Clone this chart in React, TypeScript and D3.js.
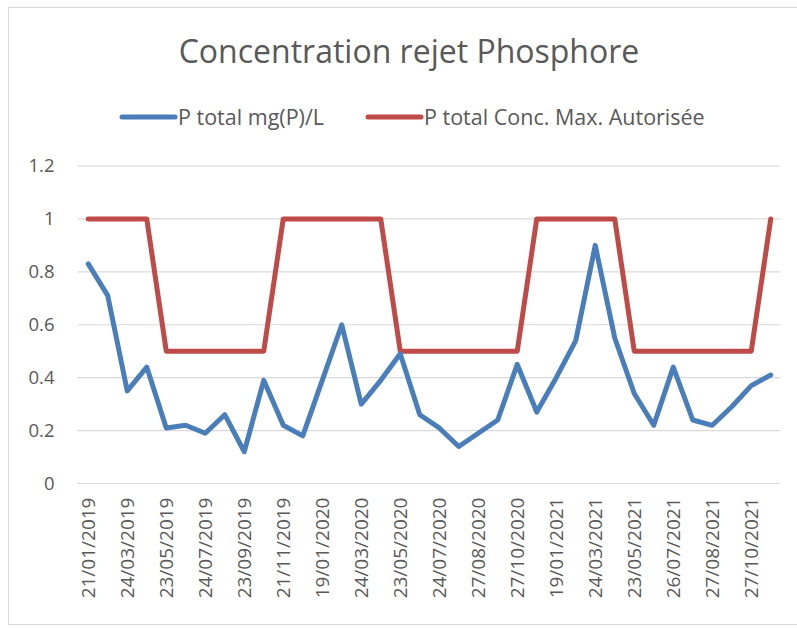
import React, { useEffect, useRef } from "react";
import * as d3 from "d3";

// shown date labels (every other sample)
const tickLabels = [
  "21/01/2019", "24/03/2019", "23/05/2019", "24/07/2019", "23/09/2019", "21/11/2019",
  "19/01/2020", "24/03/2020", "23/05/2020", "24/07/2020", "27/08/2020", "27/10/2020",
  "19/01/2021", "24/03/2021", "23/05/2021", "26/07/2021", "27/08/2021", "27/10/2021",
];

// P total mg(P)/L, one value per sample
const pTotal = [
  0.83, 0.71, 0.35, 0.44, 0.21, 0.22, 0.19, 0.26, 0.12, 0.39, 0.22, 0.18,
  0.39, 0.6, 0.3, 0.39, 0.49, 0.26, 0.21, 0.14, 0.19, 0.24, 0.45, 0.27,
  0.4, 0.54, 0.9, 0.55, 0.34, 0.22, 0.44, 0.24, 0.22, 0.29, 0.37, 0.41,
];

// P total Conc. Max. Autorisée
const pMax = [
  1, 1, 1, 1, 0.5, 0.5, 0.5, 0.5, 0.5, 0.5, 1, 1,
  1, 1, 1, 1, 0.5, 0.5, 0.5, 0.5, 0.5, 0.5, 0.5, 1,
  1, 1, 1, 1, 0.5, 0.5, 0.5, 0.5, 0.5, 0.5, 0.5, 1,
];

const seriesNames = ["P total mg(P)/L", "P total Conc. Max. Autorisée"];
const colors = ["#4a7ebb", "#be4b48"];

export default function App() {
  const ref = useRef<SVGSVGElement>(null);

  useEffect(() => {
    const svg = d3.select(ref.current);
    svg.selectAll("*").remove();

    const font = "'Open Sans', sans-serif";
    const textColor = "#595959";
    const left = 78.5, right = 780.5, top = 166, bottom = 483.5;

    // chart frame
    svg.append("rect")
      .attr("x", 8.5).attr("y", 7.5)
      .attr("width", 800).attr("height", 617)
      .attr("fill", "#fff").attr("stroke", "#d9d9d9");

    const x = d3.scaleBand<number>().domain(d3.range(pTotal.length)).range([left, right]);
    const cx = (i: number) => (x(i) as number) + x.bandwidth() / 2;
    const y = d3.scaleLinear().domain([0, 1.2]).range([bottom, top]);
    const yTicks = [0, 0.2, 0.4, 0.6, 0.8, 1, 1.2];

    // gridlines
    svg.append("g")
      .selectAll("line")
      .data(yTicks)
      .join("line")
      .attr("x1", left - 1).attr("x2", right)
      .attr("y1", d => y(d)).attr("y2", d => y(d))
      .attr("stroke", "#d9d9d9").attr("stroke-width", 1.2);

    const yAxis = svg.append("g")
      .attr("transform", "translate(" + left + ",0)")
      .call(d3.axisLeft(y).tickValues(yTicks).tickSize(0).tickPadding(24)
        .tickFormat(d => d3.format("~g")(d as number)));
    yAxis.select(".domain").remove();
    yAxis.selectAll("text")
      .attr("font-family", font).attr("font-size", 18.5).attr("fill", textColor);

    const xAxis = svg.append("g")
      .attr("transform", "translate(0," + bottom + ")")
      .call(d3.axisBottom(x)
        .tickValues(d3.range(0, pTotal.length, 2))
        .tickSize(0)
        .tickFormat(i => tickLabels[(i as number) / 2]));
    xAxis.select(".domain").remove();
    xAxis.selectAll("text")
      .attr("font-family", font).attr("font-size", 19).attr("fill", textColor)
      .attr("text-anchor", "end")
      .attr("transform", "translate(0,14) rotate(-90)")
      .attr("x", 0).attr("y", 0).attr("dy", "0.35em");

    const line = d3.line<number>().x((d, i) => cx(i)).y(d => y(d));

    [pMax, pTotal].forEach((data, k) => {
      svg.append("path")
        .datum(data)
        .attr("d", line)
        .attr("fill", "none")
        .attr("stroke", colors[1 - k])
        .attr("stroke-width", 5)
        .attr("stroke-linejoin", "round")
        .attr("stroke-linecap", "round");
    });

    // title
    svg.append("text")
      .attr("x", 409).attr("y", 63)
      .attr("text-anchor", "middle")
      .attr("font-family", font).attr("font-size", 32).attr("fill", textColor)
      .text("Concentration rejet Phosphore");

    // legend
    const legendX = [122, 368];
    seriesNames.forEach((name, k) => {
      const g = svg.append("g").attr("transform", "translate(" + legendX[k] + ",117)");
      g.append("line")
        .attr("x1", 0).attr("x2", 53).attr("y1", 0).attr("y2", 0)
        .attr("stroke", colors[k]).attr("stroke-width", 5)
        .attr("stroke-linecap", "round");
      g.append("text")
        .attr("x", 56).attr("y", 0).attr("dy", "0.35em")
        .attr("font-family", font).attr("font-size", 21.5).attr("fill", textColor)
        .text(name);
    });
  }, []);

  return (
    <svg ref={ref} width={797} height={628}
      style={{ position: "absolute", left: 0, top: 0, background: "#fff" }} />
  );
}
